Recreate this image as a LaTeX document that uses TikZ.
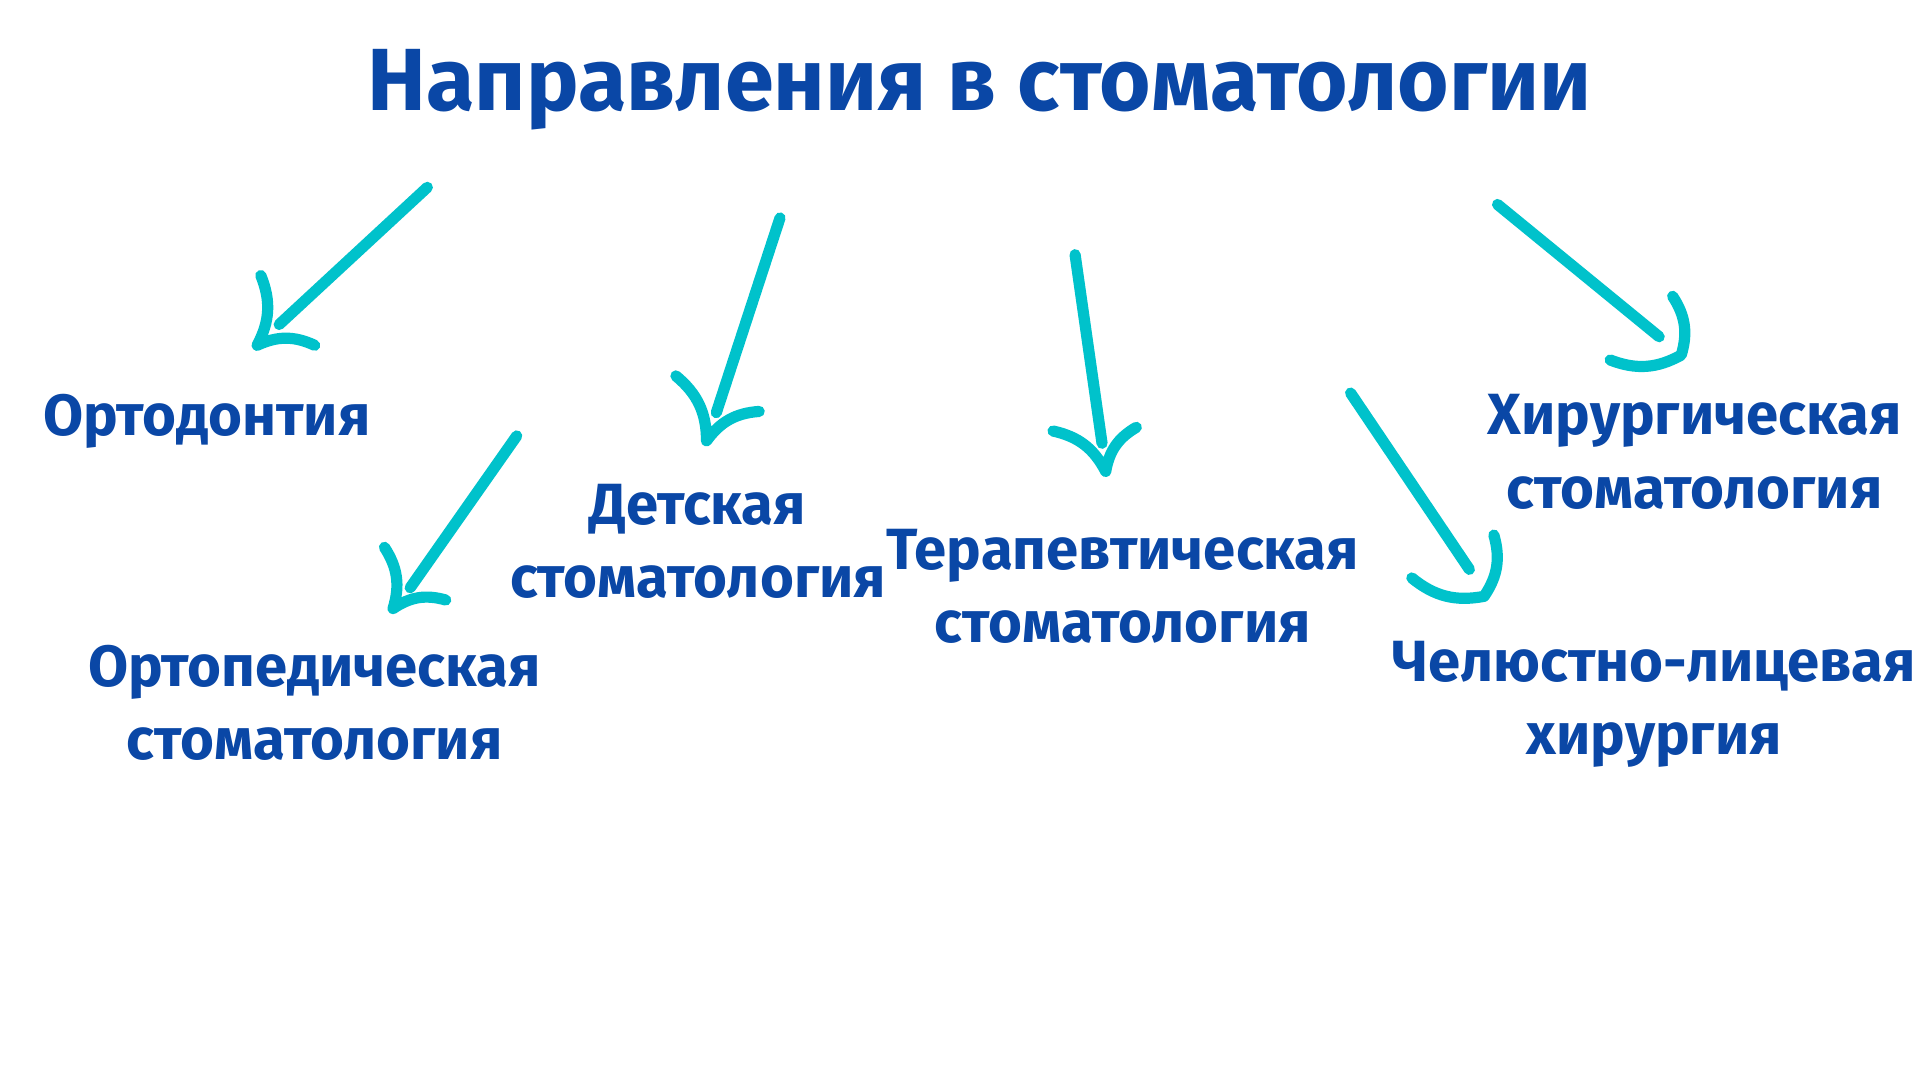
\documentclass[tikz,border=0pt]{standalone}
\usepackage{fontspec}
\setmainfont{Fira Sans}
\usepackage{tikz}
\usetikzlibrary{calc}
\definecolor{titleblue}{HTML}{0A47A6}
\definecolor{arrowteal}{HTML}{00C2CB}
\tikzset{
  label text/.style={text=titleblue, font=\fontsize{13.5}{17}\selectfont\bfseries, align=center},
  shaft/.style={draw=arrowteal, line width=2.6pt, line cap=round},
  tiphead/.style={draw=arrowteal, line width=2.6pt, line cap=round, line join=round},
}
\begin{document}
\begin{tikzpicture}[x=0.01cm, y=-0.01cm]
\useasboundingbox[fill=white] (0,0) rectangle (1568,882);

%%%%%%%%%%%%%%%%%%%%%%%%%%%%%%%%%%%%%%%%%% Title
\node[text=titleblue, font=\fontsize{20.5}{24}\selectfont\bfseries] (title) at (800,73) {Направления в стоматологии};

%%%%%%%%%%%%%%%%%%%%%%%%%%%%%%%%%%%%%%%%%% Labels
\node[label text] (orto)  at (169,344) {Ортодонтия};
\node[label text] (ortop) at (257,574) {Ортопедическая\\стоматология};
\node[label text] (child) at (570,442) {Детская\\стоматология};
\node[label text] (ther)  at (917,479) {Терапевтическая\\стоматология};
\node[label text] (surg)  at (1384,369) {Хирургическая\\стоматология};
\node[label text] (maxil) at (1351,575) {Челюстно-лицевая\\хирургия};

%%%%%%%%%%%%%%%%%%%%%%%%%%%%%%%%%%%%%%%%%% Arrows
% start, shaft end, arm one, apex, arm two
\foreach \nm/\sx/\sy/\ex/\ey/\ax/\ay/\px/\py/\bx/\by in {
  a1/349/153/228/265/213/225/210/282/257/282,
  a2/637/178/585/337/552/307/577/360/620/336,
  a3/878/208/900/362/860/352/903/385/928/349,
  a4/1223/167/1355/275/1366/242/1373/290/1315/294,
  a5/422/356/335/480/314/447/321/497/364/490,
  a6/1103/321/1200/465/1220/437/1212/487/1153/472}
{
  \coordinate (\nm-s) at (\sx,\sy);
  \coordinate (\nm-e) at (\ex,\ey);
  \coordinate (\nm-a) at (\ax,\ay);
  \coordinate (\nm-p) at (\px,\py);
  \coordinate (\nm-b) at (\bx,\by);
  \draw[shaft] (\nm-s) -- (\nm-e);
  \draw[tiphead] (\nm-a) to[bend left=25] (\nm-p) to[bend left=25] (\nm-b);
}

\end{tikzpicture}
\end{document}
